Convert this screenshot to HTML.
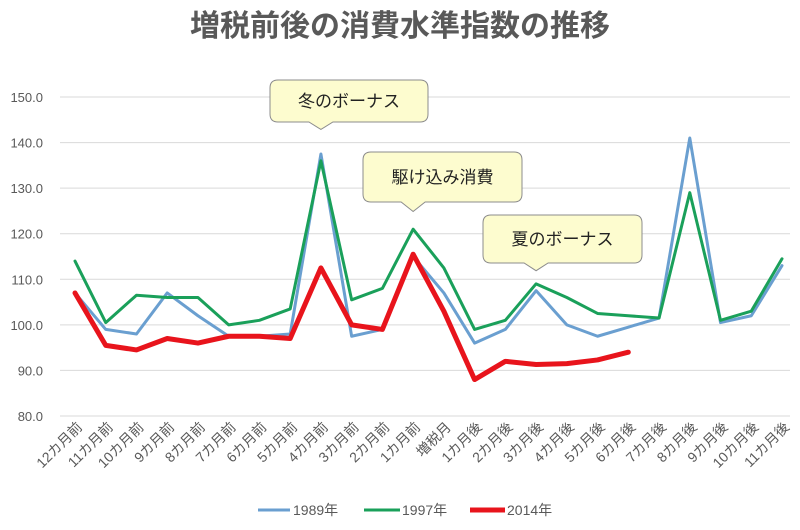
<!DOCTYPE html>
<html><head><meta charset="utf-8"><style>
body{margin:0;background:#fff;}
svg{display:block;font-family:"Liberation Sans","Noto Sans CJK JP",sans-serif;}
</style></head><body>
<svg id="chart" width="800" height="530" viewBox="0 0 800 530">
<rect width="800" height="530" fill="#fff"/>
<text x="400" y="36" text-anchor="middle" font-size="30" font-weight="bold" fill="#595959">増税前後の消費水準指数の推移</text>
<g id="grid"></g><g id="ylabels"></g><g id="xlabels"></g><g id="series"></g>
<g id="callouts"></g>
<g>
<line x1="258" y1="510" x2="290" y2="510" stroke="#6a9fd0" stroke-width="3"/>
<text x="293" y="515" font-size="14" fill="#595959">1989年</text>
<line x1="364" y1="510" x2="400" y2="510" stroke="#1aa05a" stroke-width="3"/>
<text x="402" y="515" font-size="14" fill="#595959">1997年</text>
<line x1="470" y1="510" x2="505" y2="510" stroke="#e8141c" stroke-width="5"/>
<text x="507" y="515" font-size="14" fill="#595959">2014年</text>
</g>
</svg>
<script>
const categories=["12カ月前","11カ月前","10カ月前","9カ月前","8カ月前","7カ月前","6カ月前","5カ月前","4カ月前","3カ月前","2カ月前","1カ月前","増税月","1カ月後","2カ月後","3カ月後","4カ月後","5カ月後","6カ月後","7カ月後","8カ月後","9カ月後","10カ月後","11カ月後"];
const s1989=[107,99,98,107,102,97.5,97.5,98,137.5,97.5,99,115,107,96,99,107.5,100,97.5,99.5,101.5,141,100.5,102,113];
const s1997=[114,100.5,106.5,106,106,100,101,103.5,136,105.5,108,121,112.5,99,101,109,106,102.5,102,101.5,129,101,103,114.5];
const s2014=[107,95.5,94.5,97,96,97.5,97.5,97,112.5,100,99,115.5,103,88,92,91.3,91.5,92.3,94,null,null,null,null,null];
const yTicks=[80,90,100,110,120,130,140,150];
const callouts=[{text:"冬のボーナス",idx:8,val:142,bx:270,by:80,bw:158,bh:42},{text:"駆け込み消費",idx:11,val:124,bx:363,by:152,bw:159,bh:50},{text:"夏のボーナス",idx:15,val:111,bx:483,by:215,bw:159,bh:48}];
const NS="http://www.w3.org/2000/svg";
const X0=75,X1=782,Y0=416,Y1=97;
const x=i=>X0+i*(X1-X0)/(categories.length-1);
const y=v=>Y0-(v-80)*(Y0-Y1)/70;
function mk(t,a,p){const e=document.createElementNS(NS,t);for(const k in a)e.setAttribute(k,a[k]);p.appendChild(e);return e;}
const grid=document.getElementById('grid'),yl=document.getElementById('ylabels'),xl=document.getElementById('xlabels'),ser=document.getElementById('series'),co=document.getElementById('callouts');
yTicks.forEach(v=>{
 const l=mk('line',{x1:60,x2:790,y1:y(v),y2:y(v),stroke:'#d9d9d9','stroke-width':1},grid);
 
 
 const t=mk('text',{x:43,y:y(v)+5,'text-anchor':'end','font-size':13,fill:'#595959'},yl);
 t.textContent=v.toFixed(1);
 
 
});
categories.forEach((c,i)=>{
 const t=mk('text',{x:x(i)+8,y:428,'text-anchor':'end','font-size':14,fill:'#595959',transform:`rotate(-45 ${x(i)+8} 428)`},xl);
 t.textContent=c;
 
 
});
function line(data,color,w,name){
 let d='',pen=false;
 data.forEach((v,i)=>{if(v==null){pen=false;return;}d+=(pen?'L':'M')+x(i)+' '+y(v)+' ';pen=true;});
 const p=mk('path',{d:d,fill:'none',stroke:color,'stroke-width':w,'stroke-linejoin':'round','stroke-linecap':'round'},ser);
 
 
}
line(s1989,'#6a9fd0',3,'series-1989');
line(s1997,'#1aa05a',3,'series-1997');
line(s2014,'#e8141c',5,'series-2014');
callouts.forEach(c=>{
 const tx=x(c.idx),ty=y(c.val)-4,r=8,b=c.by+c.bh;
 const t1=tx-12,t2=tx+12;
 const d=`M${c.bx+r} ${c.by} H${c.bx+c.bw-r} Q${c.bx+c.bw} ${c.by} ${c.bx+c.bw} ${c.by+r} V${b-r} Q${c.bx+c.bw} ${b} ${c.bx+c.bw-r} ${b} H${t2} L${tx} ${ty} L${t1} ${b} H${c.bx+r} Q${c.bx} ${b} ${c.bx} ${b-r} V${c.by+r} Q${c.bx} ${c.by} ${c.bx+r} ${c.by} Z`;
 const p=mk('path',{d:d,fill:'#fdfccf',stroke:'#8c8c8c','stroke-width':1},co);
 
 
 const t=mk('text',{x:c.bx+c.bw/2,y:c.by+c.bh/2+6,'text-anchor':'middle','font-size':17,fill:'#222'},co);
 t.textContent=c.text;
 
 
});
</script>
</body></html>
